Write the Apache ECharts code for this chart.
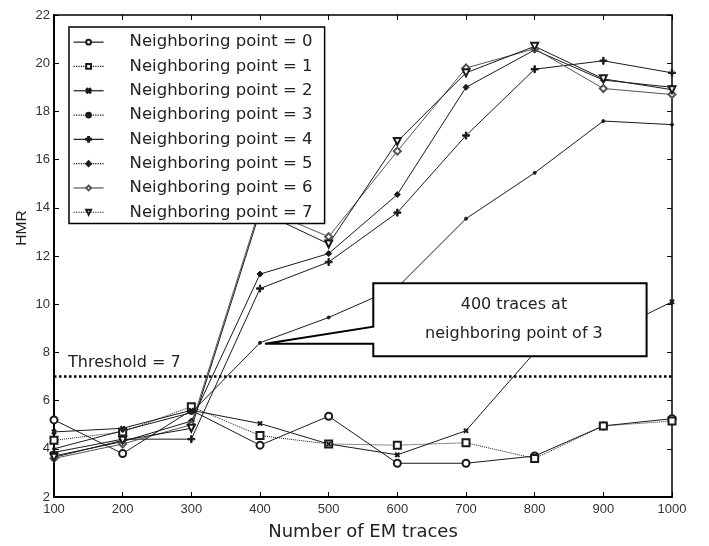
<!DOCTYPE html>
<html>
  <head>
    <meta charset="utf-8" />
    <title>HMR vs EM traces</title>
    <style type="text/css">
      html,
      body {
        margin: 0;
        padding: 0;
        background: #fff;
      }
    </style>
    <script src="https://cdn.jsdelivr.net/npm/echarts@6/dist/echarts.min.js"></script>
  </head>
  <body>
    <div id="chart" style="width: 709px; height: 546px"></div>
    <script type="text/javascript">
      // x: number of EM traces
      var traces = [100, 200, 300, 400, 500, 600, 700, 800, 900, 1000];
      // HMR per neighboring point
      var np0 = [5.2, 3.8, 5.6, 4.15, 5.35, 3.4, 3.4, 3.7, 4.95, 5.25];
      var np1 = [4.35, 4.7, 5.75, 4.55, 4.2, 4.15, 4.25, 3.6, 4.95, 5.15];
      var np2 = [4.7, 4.85, 5.6, 5.05, 4.2, 3.75, 4.75, 8.0, 8.7, 10.1];
      var np3 = [4.0, 4.75, 5.5, 8.4, 9.45, 10.7, 13.55, 15.45, 17.6, 17.45];
      var np4 = [3.85, 4.4, 4.4, 10.65, 11.75, 13.8, 17.0, 19.75, 20.1, 19.6];
      var np5 = [3.7, 4.3, 5.15, 11.25, 12.1, 14.55, 19.0, 20.55, 19.3, 19.0];
      var np6 = [3.6, 4.2, 5.0, 14.0, 12.8, 16.35, 19.8, 20.6, 18.95, 18.7];
      var np7 = [3.65, 4.35, 4.85, 13.85, 12.5, 16.75, 19.6, 20.7, 19.35, 18.9];
      var threshold = 7;
      var calloutTrace = 400; // point on "neighboring point = 3"

      var seriesValues = [np0, np1, np2, np3, np4, np5, np6, np7];
      var names = seriesValues.map(function (v, i) {
        return "Neighboring point = " + i;
      });

      var plus = "path://M4,0h2v4h4v2h-4v4h-2v-4h-4v-2h4z";
      var symbols = [
        { symbol: "emptyCircle", size: 7 },
        { symbol: "emptyRect", size: 7 },
        { symbol: plus, size: 5, rotate: 45 },
        { symbol: "circle", size: 3 },
        { symbol: plus, size: 7 },
        { symbol: "diamond", size: 6 },
        { symbol: "emptyDiamond", size: 7 },
        { symbol: "emptyTriangle", size: 7, rotate: 180 },
      ];
      var lineColor = "#1a1a1a";
      var font = "Liberation Sans, Arial, sans-serif";
      var wideFont = "DejaVu Sans, Verdana, sans-serif";

      var chart = echarts.init(document.getElementById("chart"));

      var series = seriesValues.map(function (vals, i) {
        var s = symbols[i];
        var color = i === 6 ? "#555" : lineColor;
        var item = {
          name: names[i],
          type: "line",
          data: traces.map(function (t, k) {
            return [t, vals[k]];
          }),
          symbol: s.symbol,
          symbolSize: s.size,
          symbolRotate: s.rotate || 0,
          showAllSymbol: true,
          itemStyle: { color: color, borderColor: color, borderWidth: 1 },
          lineStyle: {
            color: color,
            width: 1,
            type: i === 1 ? "dotted" : "solid",
          },
          emphasis: { disabled: true },
          z: 3,
        };
        if (i === 0) {
          item.markLine = {
            silent: true,
            symbol: "none",
            lineStyle: { color: "#000", type: "dotted", width: 2.5 },
            label: {
              show: true,
              position: "insideStartTop",
              formatter: "Threshold = " + threshold,
              color: "#222",
              fontSize: 16,
              fontFamily: wideFont,
              distance: [14, 6],
            },
            data: [{ yAxis: threshold }],
          };
        }
        return item;
      });

      var option = {
        animation: false,
        backgroundColor: "#fff",
        grid: { left: 54, right: 37, top: 15, bottom: 48 },
        legend: {
          orient: "vertical",
          left: 69,
          top: 27,
          selectedMode: false,
          backgroundColor: "#fff",
          borderColor: "#000",
          borderWidth: 1.5,
          borderRadius: 0,
          padding: [5, 12, 1, 4],
          itemWidth: 30,
          itemHeight: 6,
          itemGap: 4,
          textStyle: {
            color: "#222",
            fontSize: 16.5,
            fontFamily: wideFont,
            lineHeight: 20.3,
            padding: [0, 0, 0, 21],
          },
          data: names.map(function (n, i) {
            return {
              name: n,
              lineStyle: {
                color: i === 6 ? "#555" : lineColor,
                width: 1.2,
                type: i % 2 === 1 ? "dotted" : "solid",
              },
            };
          }),
        },
        xAxis: [
          {
            type: "value",
            min: 100,
            max: 1000,
            interval: 100,
            name: "Number of EM traces",
            nameLocation: "middle",
            nameGap: 26,
            nameMoveOverlap: false,
            nameTextStyle: { color: "#222", fontSize: 18, fontFamily: wideFont },
            axisLine: { lineStyle: { color: "#000", width: 2 } },
            axisTick: { inside: true, length: 5, lineStyle: { color: "#000" } },
            axisLabel: {
              color: "#333",
              fontSize: 13,
              fontFamily: font,
              margin: 6,
              formatter: function (v) {
                return String(v);
              },
            },
            splitLine: { show: false },
          },
          {
            type: "value",
            position: "top",
            min: 100,
            max: 1000,
            interval: 100,
            axisLine: { show: true, lineStyle: { color: "#000", width: 1.5 } },
            axisTick: { inside: true, length: 5, lineStyle: { color: "#000" } },
            axisLabel: { show: false },
            splitLine: { show: false },
          },
        ],
        yAxis: [
          {
            type: "value",
            min: 2,
            max: 22,
            interval: 2,
            name: "HMR",
            nameLocation: "middle",
            nameGap: 24,
            nameMoveOverlap: false,
            nameTextStyle: {
              color: "#222",
              fontSize: 15.5,
              fontFamily: font,
              padding: [0, 0, 0, 56],
            },
            axisLine: { show: true, lineStyle: { color: "#000", width: 2 } },
            axisTick: { show: true, inside: true, length: 5, lineStyle: { color: "#000" } },
            axisLabel: {
              color: "#333",
              fontSize: 13,
              fontFamily: font,
              margin: 4,
            },
            splitLine: { show: false },
          },
          {
            type: "value",
            position: "right",
            min: 2,
            max: 22,
            interval: 2,
            axisLine: { show: true, lineStyle: { color: "#000", width: 1.5 } },
            axisTick: { show: true, inside: true, length: 5, lineStyle: { color: "#000" } },
            axisLabel: { show: false },
            splitLine: { show: false },
          },
        ],
        series: series,
      };
      chart.setOption(option);

      // callout box pointing at the 400-trace point of neighboring point = 3
      function drawCallout() {
        var k = traces.indexOf(calloutTrace);
        var g = { gridIndex: 0 };
        var tip = chart.convertToPixel(g, [calloutTrace, np3[k]]);
        var tl = chart.convertToPixel(g, [565, 10.87]);
        var br = chart.convertToPixel(g, [963, 7.84]);
        var wt = chart.convertToPixel(g, [565, 9.07]);
        var L = tl[0], T = tl[1], R = br[0], B = br[1];
        var tipX = tip[0] + 5, tipY = tip[1] + 1;
        chart.setOption({
          graphic: [
            {
              type: "polygon",
              z: 10,
              shape: {
                points: [
                  [L, T],
                  [R, T],
                  [R, B],
                  [L, B],
                  [L, tipY],
                  [tipX, tipY],
                  [L, wt[1]],
                ],
              },
              style: { fill: "#fff", stroke: "#000", lineWidth: 2 },
            },
            {
              type: "text",
              z: 11,
              style: {
                text: "400 traces at\nneighboring point of 3",
                x: (L + R) / 2 + 4,
                y: (T + B) / 2,
                align: "center",
                verticalAlign: "middle",
                fill: "#222",
                font: "16px " + wideFont,
                lineHeight: 29,
              },
            },
          ],
        });
      }
      drawCallout();
    </script>
  </body>
</html>
